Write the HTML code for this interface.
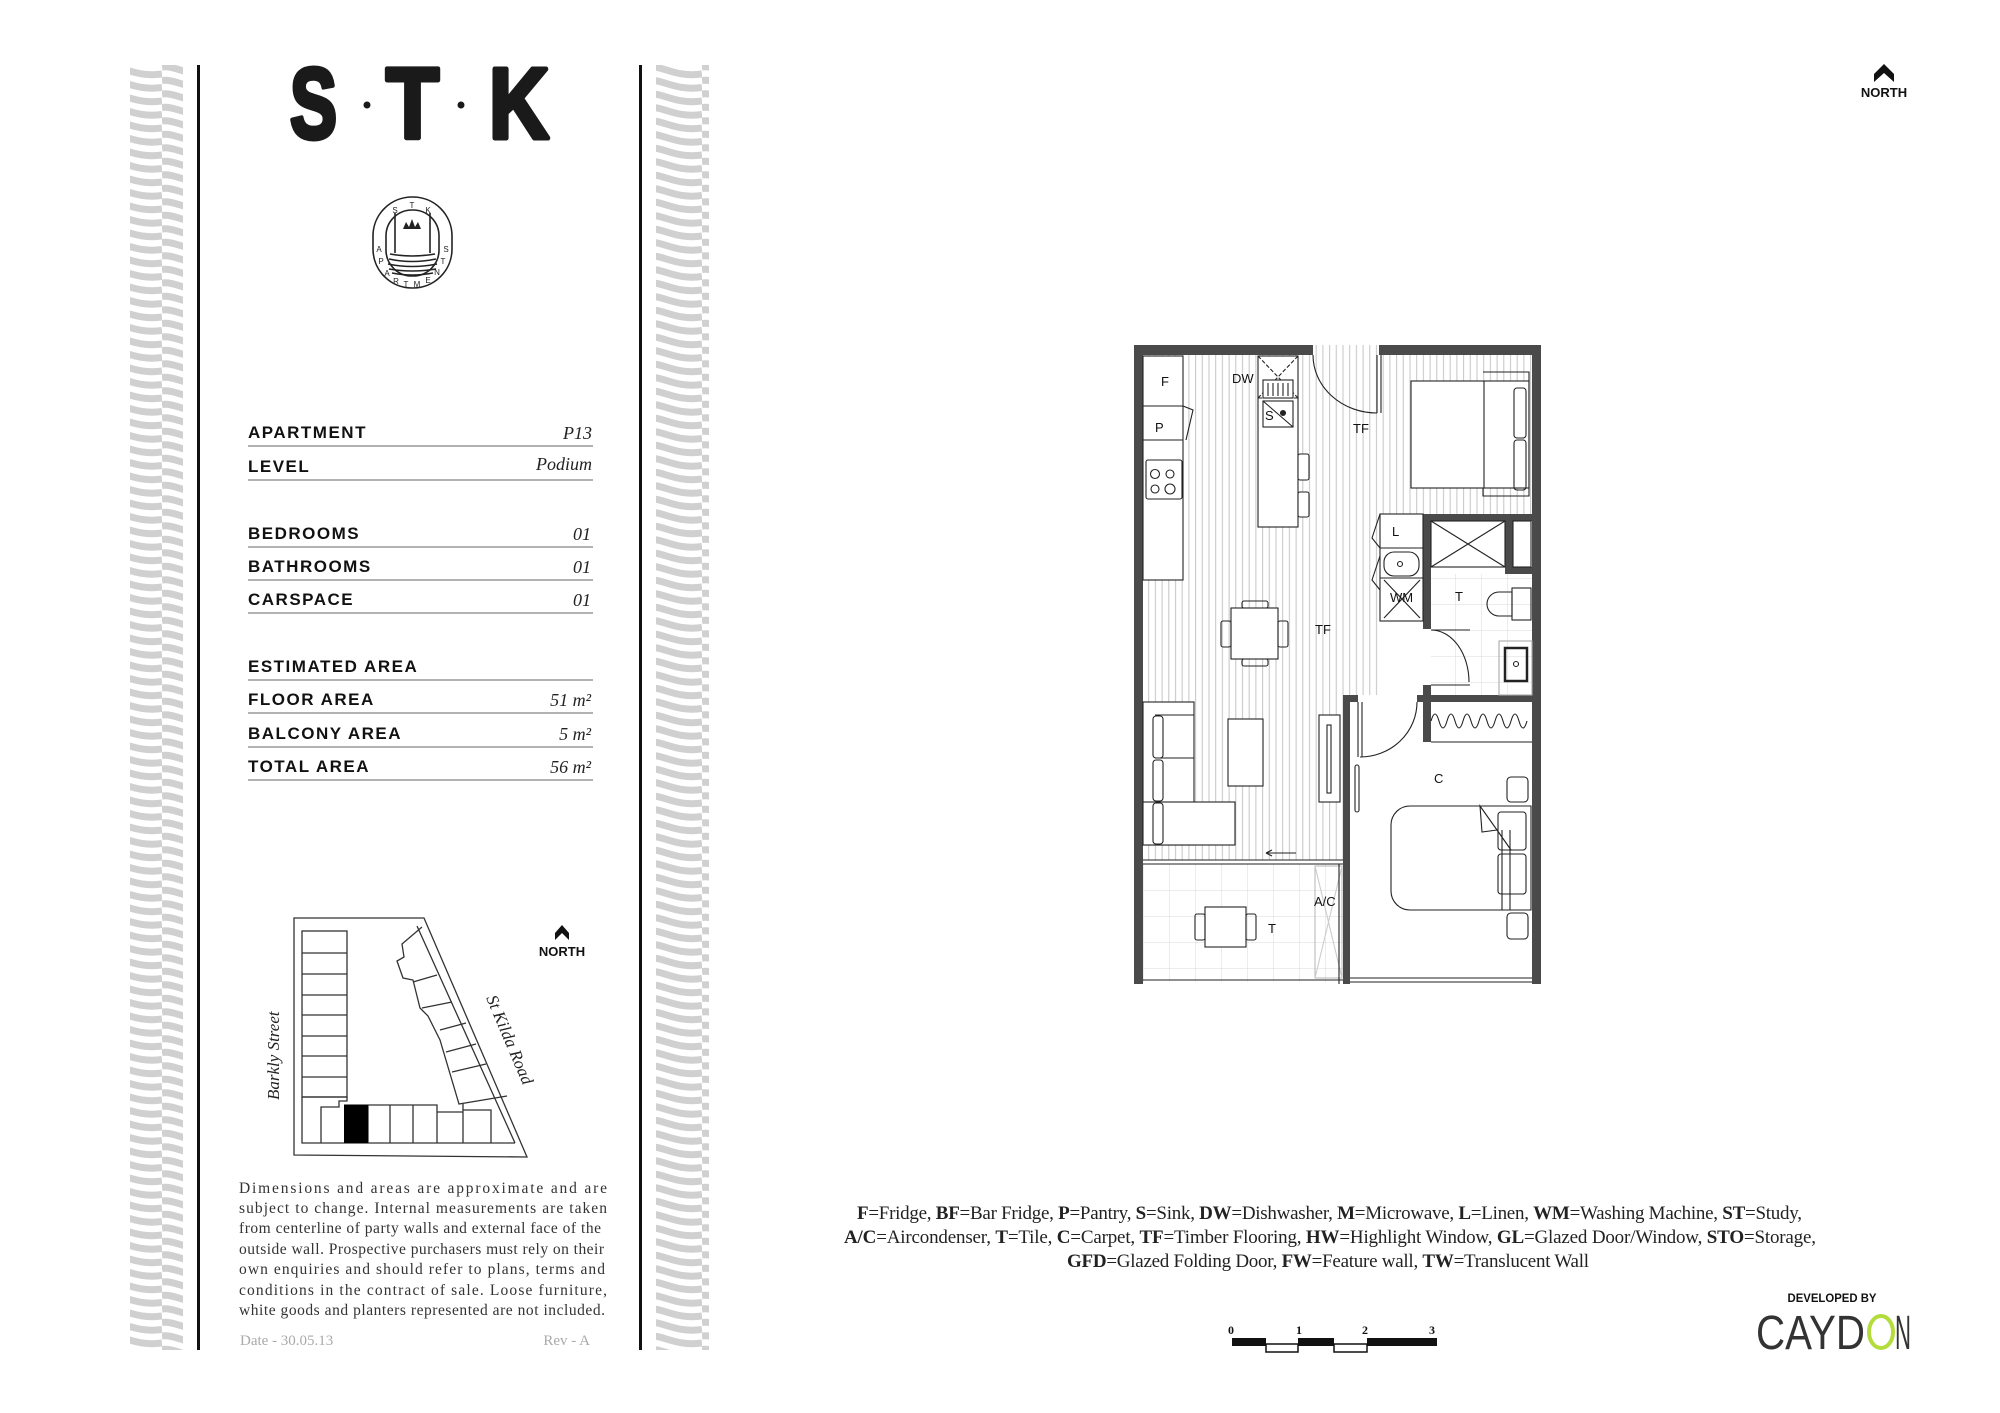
<!DOCTYPE html>
<html><head><meta charset="utf-8"><style>
html,body{margin:0;padding:0;background:#fff;}
svg{display:block;}
</style></head><body>
<svg width="2000" height="1413" viewBox="0 0 2000 1413" xmlns="http://www.w3.org/2000/svg">
<defs>
<pattern id="wave" x="0" y="65" width="54" height="13.5" patternUnits="userSpaceOnUse">
<path d="M0,2 C14,0 28,13 54,9" stroke="#d0d0d0" stroke-width="7" fill="none"/>
<path d="M0,15.5 C14,13.5 28,26.5 54,22.5" stroke="#d0d0d0" stroke-width="7" fill="none"/>
<path d="M0,-11.5 C14,-13.5 28,-0.5 54,-4.5" stroke="#d0d0d0" stroke-width="7" fill="none"/>
</pattern>
<pattern id="tf" x="0" y="0" width="6.7" height="10" patternUnits="userSpaceOnUse">
<line x1="3" y1="0" x2="3" y2="10" stroke="#c4c4c4" stroke-width="1"/>
</pattern>
<pattern id="tile" x="1143" y="864" width="26" height="26" patternUnits="userSpaceOnUse">
<path d="M0,0 H26 M0,0 V26" stroke="#d8d8d8" stroke-width="1" fill="none"/>
</pattern>
</defs>

<rect x="130" y="65" width="53" height="1285" fill="url(#wave)"/>
<rect x="656" y="65" width="53" height="1285" fill="url(#wave)"/>
<rect x="197" y="65" width="3" height="1285" fill="#111"/>
<rect x="639" y="65" width="3" height="1285" fill="#111"/>

<g font-family="Liberation Sans, sans-serif" font-weight="bold" font-size="100" fill="#1a1a1a" stroke="#1a1a1a" stroke-width="5" stroke-linejoin="round">
<text x="290" y="138" textLength="47" lengthAdjust="spacingAndGlyphs">S</text>
<text x="386" y="138" textLength="53" lengthAdjust="spacingAndGlyphs">T</text>
<text x="489" y="138" textLength="60" lengthAdjust="spacingAndGlyphs">K</text>
</g>
<circle cx="367" cy="105" r="3.5" fill="#1a1a1a"/>
<circle cx="461" cy="105" r="3.5" fill="#1a1a1a"/>

<g fill="none" stroke="#222" stroke-width="1.6">
<rect x="373" y="197" width="79" height="91" rx="39" ry="39"/>
<rect x="386" y="210" width="53" height="66" rx="26" ry="26"/>
<path d="M395,213 V253 M430,213 V253"/>
<path d="M390,254 q22,4 45,0 M389,259 q23,5 47,0 M388,264 q24,5 49,0 M389,269 q23,4 47,0 M392,273 q20,4 41,0"/>
</g>
<path d="M403,229 L406,222 L409,227 L412,219 L415,227 L418,222 L421,229 Z" fill="#222"/>
<g font-family="Liberation Sans, sans-serif" font-size="8" fill="#222" text-anchor="middle">
<text x="395" y="213">S</text><text x="412" y="208">T</text><text x="428" y="213">K</text>
<text x="379" y="252">A</text><text x="381" y="264">P</text><text x="387" y="276">A</text><text x="396" y="284">R</text><text x="406" y="287">T</text><text x="417" y="287">M</text><text x="428" y="283">E</text><text x="437" y="275">N</text><text x="443" y="264">T</text><text x="446" y="252">S</text>
</g>

<g font-family="Liberation Sans, sans-serif" font-weight="bold" font-size="17" fill="#111" letter-spacing="1.5">
<text x="248" y="438">APARTMENT</text>
<text x="248" y="472">LEVEL</text>
<text x="248" y="539">BEDROOMS</text>
<text x="248" y="572">BATHROOMS</text>
<text x="248" y="605">CARSPACE</text>
<text x="248" y="672">ESTIMATED AREA</text>
<text x="248" y="705">FLOOR AREA</text>
<text x="248" y="739">BALCONY AREA</text>
<text x="248" y="772">TOTAL AREA</text>
</g>
<g font-family="Liberation Serif, serif" font-style="italic" font-size="18" fill="#222" text-anchor="end">
<text x="592" y="439">P13</text>
<text x="592" y="470">Podium</text>
<text x="591" y="540">01</text>
<text x="591" y="573">01</text>
<text x="591" y="606">01</text>
<text x="591" y="706">51 m²</text>
<text x="591" y="740">5 m²</text>
<text x="591" y="773">56 m²</text>
</g>
<g stroke="#999" stroke-width="1.5">
<line x1="248" y1="446" x2="593" y2="446"/><line x1="248" y1="480" x2="593" y2="480"/>
<line x1="248" y1="547" x2="593" y2="547"/><line x1="248" y1="580" x2="593" y2="580"/><line x1="248" y1="613" x2="593" y2="613"/>
<line x1="248" y1="680" x2="593" y2="680"/><line x1="248" y1="713" x2="593" y2="713"/><line x1="248" y1="747" x2="593" y2="747"/><line x1="248" y1="780" x2="593" y2="780"/>
</g>

<g fill="none" stroke="#333" stroke-width="1.3">
<polygon points="294,918 424,918 527,1157 294,1155"/>
<line x1="417" y1="926" x2="515" y2="1143"/>
<rect x="302" y="931" width="45" height="166"/>
<path d="M302,953 H347 M302,974 H347 M302,995 H347 M302,1015 H347 M302,1036 H347 M302,1056 H347 M302,1077 H347"/>
<path d="M302,1097 H347 V1101 H339 V1107 H321 V1143 M302,1097 V1143 H515"/>
<path d="M344,1105 H437 V1112 H463 V1110 H491 V1116 V1143 M368,1105 V1143 M390,1105 V1143 M413,1105 V1143 M437,1112 V1143 M463,1110 V1143"/>
<path d="M422,927 L402,944 L404,957 L397,961 L403,978 L413,980 L420,1008 L428,1016 L440,1040 L459,1104 L507,1096"/>
<path d="M413,982 L437,975 M422,1008 L452,1002 M440,1030 L466,1023 M446,1052 L476,1044 M452,1072 L486,1064 M463,1104 L463,1110"/>
</g>
<rect x="344" y="1105" width="24" height="38" fill="#000"/>
<text transform="translate(279,1100) rotate(-90)" font-family="Liberation Serif, serif" font-style="italic" font-size="17" fill="#222">Barkly Street</text>
<text transform="translate(486,998) rotate(67)" font-family="Liberation Serif, serif" font-style="italic" font-size="17" fill="#222">St Kilda Road</text>
<path d="M555,933 L562,925 L569,933 L569,940 L562,933 L555,940 Z" fill="#111"/>
<text x="562" y="956" font-family="Liberation Sans, sans-serif" font-weight="bold" font-size="13" fill="#111" text-anchor="middle">NORTH</text>

<g font-family="Liberation Serif, serif" font-size="15.5" fill="#333" lengthAdjust="spacing">
<text x="239" y="1193" textLength="368">Dimensions and areas are approximate and are</text>
<text x="239" y="1213" textLength="368">subject to change. Internal measurements are taken</text>
<text x="239" y="1233" textLength="362">from centerline of party walls and external face of the</text>
<text x="239" y="1254" textLength="365">outside wall. Prospective purchasers must rely on their</text>
<text x="239" y="1274" textLength="366">own enquiries and should refer to plans, terms and</text>
<text x="239" y="1295" textLength="368">conditions in the contract of sale. Loose furniture,</text>
<text x="239" y="1315" textLength="366">white goods and planters represented are not included.</text>
</g>
<text x="240" y="1345" font-family="Liberation Serif, serif" font-size="15" fill="#aaa">Date - 30.05.13</text>
<text x="590" y="1345" font-family="Liberation Serif, serif" font-size="15" fill="#aaa" text-anchor="end">Rev - A</text>

<path d="M1874,74 L1884,64 L1894,74 L1894,82 L1884,73 L1874,82 Z" fill="#111"/>
<text x="1884" y="97" font-family="Liberation Sans, sans-serif" font-weight="bold" font-size="13" fill="#111" text-anchor="middle">NORTH</text>

<rect x="1143" y="355" width="200" height="505" fill="url(#tf)"/>
<rect x="1343" y="355" width="189" height="159" fill="url(#tf)"/>
<rect x="1343" y="514" width="37" height="181" fill="url(#tf)"/>
<rect x="1313" y="345" width="66" height="10" fill="url(#tf)"/>
<rect x="1143" y="864" width="200" height="118" fill="url(#tile)"/>
<rect x="1431" y="574" width="101" height="121" fill="url(#tile)"/>
<g fill="#4a4a4a">
<rect x="1134" y="345" width="179" height="10"/>
<rect x="1379" y="345" width="162" height="10"/>
<rect x="1134" y="345" width="9" height="639"/>
<rect x="1532" y="345" width="9" height="639"/>
<rect x="1134" y="978" width="9" height="6"/>
<rect x="1423" y="514" width="118" height="7"/>
<rect x="1423" y="514" width="8" height="115"/>
<rect x="1505" y="514" width="8" height="60"/>
<rect x="1505" y="567" width="36" height="7"/>
<rect x="1423" y="685" width="8" height="16"/>
<rect x="1417" y="695" width="124" height="7"/>
<rect x="1343" y="695" width="15" height="7"/>
<rect x="1343" y="695" width="7" height="289"/>
<rect x="1423" y="701" width="8" height="41"/>
</g>
<g fill="none" stroke="#222" stroke-width="1.1">
<line x1="1143" y1="980" x2="1343" y2="980"/>
<path d="M1350,978 H1532 M1350,982 H1532"/>
<path d="M1143,860 H1343 M1143,864 H1343"/>
<path d="M1377,355 V413 M1381,355 V413"/>
<path d="M1313,355 A64,58 0 0 0 1377,413"/>
<rect x="1143" y="356" width="40" height="224" fill="#fff"/>
<line x1="1143" y1="406" x2="1183" y2="406"/>
<line x1="1143" y1="440" x2="1183" y2="440"/>
<path d="M1183,406 L1193,410 L1186,440"/>
<rect x="1146" y="460" width="36" height="39" rx="2"/>
<circle cx="1155" cy="474" r="4.5"/><circle cx="1170" cy="474" r="4"/><circle cx="1155" cy="489" r="4"/><circle cx="1170" cy="489" r="5"/>
<rect x="1258" y="356" width="40" height="171" fill="#fff"/>
<path d="M1258,398 H1298 M1258,356 L1298,398 M1298,356 L1258,398" stroke-dasharray="4,2"/>
<rect x="1263" y="380" width="30" height="18" fill="#fff"/>
<path d="M1268,383 V396 M1273,383 V396 M1278,383 V396 M1283,383 V396 M1288,383 V396"/>
<rect x="1263" y="401" width="30" height="26"/>
<line x1="1263" y1="401" x2="1293" y2="427"/>
<circle cx="1283" cy="413" r="2.5" fill="#222"/>
<rect x="1298" y="454" width="11" height="26" rx="2" fill="#fff"/>
<rect x="1298" y="492" width="11" height="25" rx="2" fill="#fff"/>
<rect x="1231" y="608" width="47" height="51" fill="#fff"/>
<rect x="1242" y="601" width="26" height="7" rx="2"/><rect x="1242" y="659" width="26" height="7" rx="2"/>
<rect x="1221" y="621" width="10" height="26" rx="2"/><rect x="1278" y="621" width="10" height="26" rx="2"/>
<rect x="1143" y="702" width="51" height="143" fill="#fff"/>
<rect x="1143" y="802" width="92" height="43" fill="#fff"/>
<line x1="1155" y1="715" x2="1194" y2="715"/>
<line x1="1155" y1="758" x2="1194" y2="758"/>
<rect x="1153" y="716" width="10" height="42" rx="3" fill="#fff"/>
<rect x="1153" y="760" width="10" height="41" rx="3" fill="#fff"/>
<rect x="1153" y="803" width="10" height="41" rx="3" fill="#fff"/>
<rect x="1228" y="719" width="35" height="67" fill="#fff"/>
<rect x="1319" y="715" width="21" height="87" fill="#fff"/>
<rect x="1327" y="725" width="4" height="68"/>
<path d="M1266,853 H1296 M1266,853 l6,-3 M1266,853 l6,3"/>
<rect x="1205" y="907" width="41" height="40" fill="#fff"/>
<rect x="1195" y="914" width="10" height="26" rx="2"/><rect x="1246" y="914" width="10" height="26" rx="2"/>
<rect x="1315" y="866" width="27" height="112" stroke="#bbb"/>
<path d="M1315,866 L1342,978 M1342,866 L1315,978" stroke="#ccc"/>
<line x1="1339" y1="864" x2="1339" y2="984"/>
<rect x="1411" y="381" width="118" height="107" fill="#fff"/>
<path d="M1484,381 V488 M1483,372 H1529 V496 H1483 V488"/>
<rect x="1514" y="388" width="12" height="50" rx="3"/>
<rect x="1514" y="440" width="12" height="50" rx="3"/>
<rect x="1380" y="514" width="43" height="107"/>
<path d="M1380,548 H1423 M1380,578 H1423 M1380,514 L1372,538 L1380,548 M1380,556 L1372,580 L1380,590"/>
<rect x="1384" y="552" width="35" height="24" rx="10"/>
<circle cx="1400" cy="564" r="2.5"/>
<path d="M1384,580 L1420,618 M1420,580 L1384,618"/>
<rect x="1431" y="521" width="74" height="46"/>
<path d="M1431,521 L1505,567 M1505,521 L1431,567"/>
<rect x="1513" y="521" width="18" height="46"/>
<path d="M1512,592 H1499 A12,12 0 0 0 1499,616 H1512 Z"/>
<rect x="1512" y="588" width="19" height="32"/>
<rect x="1505" y="648" width="22" height="33" stroke-width="2.5"/>
<circle cx="1516" cy="664" r="2.5"/>
<rect x="1499" y="641" width="33" height="54" stroke="#aaa"/>
<path d="M1431,630 H1470 M1431,685 H1470"/>
<path d="M1431,630 A38,52 0 0 1 1469,682"/>
<path d="M1431,721 q4,-14 8,0 q4,14 8,0 q4,-14 8,0 q4,14 8,0 q4,-14 8,0 q4,14 8,0 q4,-14 8,0 q4,14 8,0 q4,-14 8,0 q4,14 8,0 q4,-14 8,0 q4,14 8,0 M1431,742 H1532"/>
<path d="M1358,702 V757 M1362,702 V757"/>
<path d="M1360,757 A57,55 0 0 0 1417,702"/>
<rect x="1355" y="765" width="4" height="47" rx="2"/>
<path d="M1410,806 H1531 V910 H1410 A19,19 0 0 1 1391,891 V825 A19,19 0 0 1 1410,806 Z"/>
<path d="M1480,806 L1497,830 L1482,832 Z M1497,830 L1511,850 M1502,830 V910 M1510,830 V910"/>
<rect x="1498" y="812" width="28" height="38" rx="3"/>
<rect x="1498" y="854" width="28" height="40" rx="3"/>
<rect x="1507" y="777" width="21" height="25" rx="4"/>
<rect x="1507" y="913" width="21" height="26" rx="4"/>
</g>
<g font-family="Liberation Sans, sans-serif" font-size="13" fill="#111">
<text x="1161" y="386">F</text>
<text x="1232" y="383">DW</text>
<text x="1265" y="420">S</text>
<text x="1155" y="432">P</text>
<text x="1353" y="433">TF</text>
<text x="1315" y="634">TF</text>
<text x="1392" y="536">L</text>
<text x="1390" y="602">WM</text>
<text x="1455" y="601">T</text>
<text x="1434" y="783">C</text>
<text x="1314" y="906">A/C</text>
<text x="1268" y="933">T</text>
</g>

<g font-family="Liberation Serif, serif" font-size="19" fill="#222" lengthAdjust="spacingAndGlyphs">
<text x="857" y="1219" textLength="945"><tspan font-weight="bold">F</tspan>=Fridge, <tspan font-weight="bold">BF</tspan>=Bar Fridge, <tspan font-weight="bold">P</tspan>=Pantry, <tspan font-weight="bold">S</tspan>=Sink, <tspan font-weight="bold">DW</tspan>=Dishwasher, <tspan font-weight="bold">M</tspan>=Microwave, <tspan font-weight="bold">L</tspan>=Linen, <tspan font-weight="bold">WM</tspan>=Washing Machine, <tspan font-weight="bold">ST</tspan>=Study,</text>
<text x="844" y="1243" textLength="972"><tspan font-weight="bold">A/C</tspan>=Aircondenser, <tspan font-weight="bold">T</tspan>=Tile, <tspan font-weight="bold">C</tspan>=Carpet, <tspan font-weight="bold">TF</tspan>=Timber Flooring, <tspan font-weight="bold">HW</tspan>=Highlight Window, <tspan font-weight="bold">GL</tspan>=Glazed Door/Window, <tspan font-weight="bold">STO</tspan>=Storage,</text>
<text x="1067" y="1267" textLength="522"><tspan font-weight="bold">GFD</tspan>=Glazed Folding Door, <tspan font-weight="bold">FW</tspan>=Feature wall, <tspan font-weight="bold">TW</tspan>=Translucent Wall</text>
</g>

<g font-family="Liberation Serif, serif" font-weight="bold" font-size="12" fill="#111" text-anchor="middle">
<text x="1231" y="1334">0</text><text x="1299" y="1334">1</text><text x="1365" y="1334">2</text><text x="1432" y="1334">3</text>
</g>
<rect x="1232" y="1338" width="34" height="8" fill="#111"/>
<rect x="1298" y="1338" width="36" height="8" fill="#111"/>
<rect x="1367" y="1338" width="70" height="8" fill="#111"/>
<rect x="1266" y="1344" width="32" height="8" fill="none" stroke="#111" stroke-width="1.5"/>
<rect x="1334" y="1344" width="33" height="8" fill="none" stroke="#111" stroke-width="1.5"/>

<text x="1832" y="1302" font-family="Liberation Sans, sans-serif" font-weight="bold" font-size="12" fill="#111" text-anchor="middle" textLength="89" lengthAdjust="spacingAndGlyphs">DEVELOPED BY</text>
<text x="1756" y="1349" font-family="Liberation Sans, sans-serif" font-size="48" fill="#333" textLength="109" lengthAdjust="spacingAndGlyphs">CAYD</text>
<ellipse cx="1881" cy="1332" rx="12" ry="16" fill="none" stroke="#b4dc3c" stroke-width="4"/>
<text x="1895" y="1349" font-family="Liberation Sans, sans-serif" font-size="48" fill="#333" textLength="16" lengthAdjust="spacingAndGlyphs">N</text>
</svg>
</body></html>
